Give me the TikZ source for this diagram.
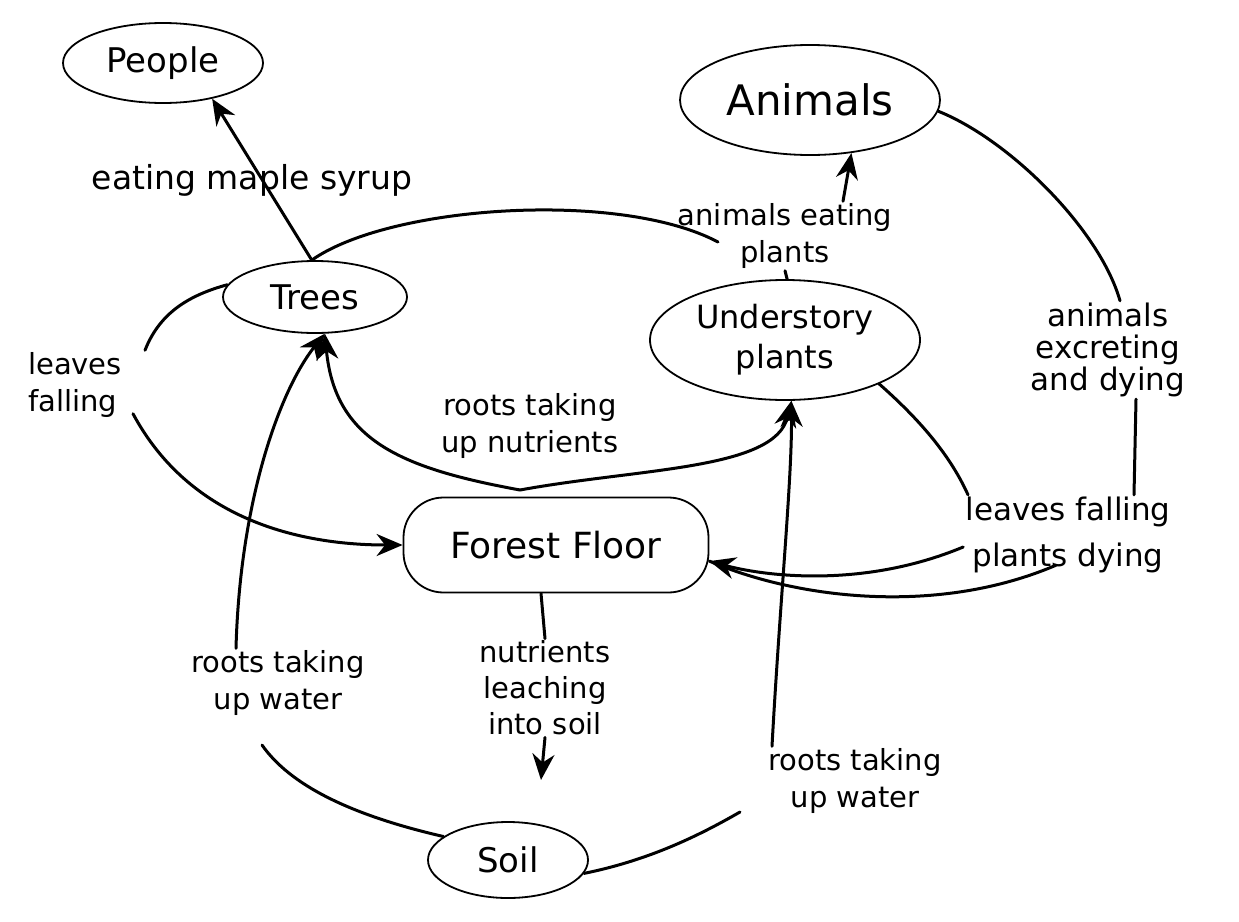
\documentclass[tikz,border=0pt]{standalone}
\usepackage{fontspec}
\setmainfont{DejaVu Sans}
\usetikzlibrary{shapes.geometric,arrows.meta}
\tikzset{
  concept/.style={ellipse,draw=black,line width=1.8pt,inner sep=0pt,align=center,font=\fontsize{34}{40}\selectfont},
  floorbox/.style={rectangle,rounded corners=40pt,draw=black,line width=1.8pt,inner sep=0pt,font=\fontsize{36}{42}\selectfont},
  lbl/.style={align=center,inner sep=2pt,font=\fontsize{29}{37}\selectfont},
  link/.style={line width=3pt,draw=black,line cap=round},
  arr/.style={link,-{Stealth[length=26pt,width=22pt]}}
}
\begin{document}
\begin{tikzpicture}[x=1pt,y=-1pt]
\path[use as bounding box,fill=white] (0,0) rectangle (1239,921);

% concept nodes
\node[concept,minimum width=200pt,minimum height=80pt] (people) at (163,63) {People};
\node[concept,minimum width=260pt,minimum height=110pt,font=\fontsize{42}{48}\selectfont] (animals) at (810,100) {Animals};
\node[concept,minimum width=184pt,minimum height=72pt] (trees) at (315,297) {Trees};
\node[concept,minimum width=270pt,minimum height=120pt,font=\fontsize{32}{40}\selectfont] (und) at (785,340) {Understory\\plants};
\node[floorbox,minimum width=305pt,minimum height=95pt] (ff) at (556,545) {Forest Floor};
\node[concept,minimum width=160pt,minimum height=76pt] (soil) at (508,860) {Soil};

% labels
\node[lbl,font=\fontsize{33}{40}\selectfont] (syrup) at (252,180) {eating maple syrup};
\node[lbl] (aep) at (785,236) {animals eating\\plants};
\node[lbl,font=\fontsize{31}{32}\selectfont] (aed) at (1108,350) {animals\\excreting\\and dying};
\node[lbl,align=left] (lfl) at (75,385) {leaves\\falling};
\node[lbl] (rtn) at (530,426) {roots taking\\up nutrients};
\node[lbl,font=\fontsize{31}{46}\selectfont] (lfpd) at (1068,535) {leaves falling\\plants dying};
\node[lbl,font=\fontsize{29}{36}\selectfont] (nls) at (545,688) {nutrients\\leaching\\into soil};
\node[lbl] (rtw1) at (278,683) {roots taking\\up water};
\node[lbl] (rtw2) at (855,781) {roots taking\\up water};

% free ends
\coordinate (aepin) at (718,242);
\coordinate (brace) at (520,490);
\coordinate (rtw1end) at (262,745);
\coordinate (rtw2end) at (740,812);
\coordinate (nlsend) at (541,780);

% connectors
\draw[arr] (trees.95) -- (people.-36);
\draw[link] (trees.95) .. controls (390,205) and (620,190) .. (aepin);
\draw[link] (und.88) -- (aep.south);
\draw[arr] ([xshift=58pt]aep.north) -- (animals.-52);

\draw[link] (animals.-5) .. controls (1010,140) and (1100,230) .. ([xshift=12pt]aed.north);
\draw[link] ([xshift=28pt]aed.south) -- ([xshift=66pt]lfpd.north);
\draw[link] (und.-25) .. controls (920,420) and (950,455) .. ([xshift=-100pt]lfpd.north);

\draw[arr] ([yshift=-12pt]lfpd.west) .. controls (860,590) and (760,575) .. (ff.-6);
\draw[link] ([xshift=-12pt,yshift=10pt]lfpd.south) .. controls (940,615) and (800,600) .. (ff.-6);

\draw[link] (trees.172) .. controls (190,295) and (160,312) .. ([xshift=70pt]lfl.north);
\draw[arr] ([xshift=58pt,yshift=6pt]lfl.south) .. controls (190,520) and (300,545) .. (ff.west);

\draw[arr] (brace) .. controls (400,468) and (335,440) .. (trees.-75);
\draw[arr] (brace) .. controls (640,468) and (775,470) .. (und.-84);

\draw[arr] ([xshift=-42pt]rtw1.north) .. controls (240,500) and (280,390) .. (trees.-75);
\draw[link] (soil.160) .. controls (350,815) and (290,785) .. (rtw1end);

\draw[arr] ([xshift=-83pt]rtw2.north) .. controls (780,600) and (792,480) .. (und.-84);
\draw[link] (soil.-10) .. controls (650,860) and (700,835) .. (rtw2end);

\draw[link] ([xshift=-15pt]ff.south) -- (nls.north);
\draw[arr] (nls.south) -- (nlsend);
\end{tikzpicture}
\end{document}
